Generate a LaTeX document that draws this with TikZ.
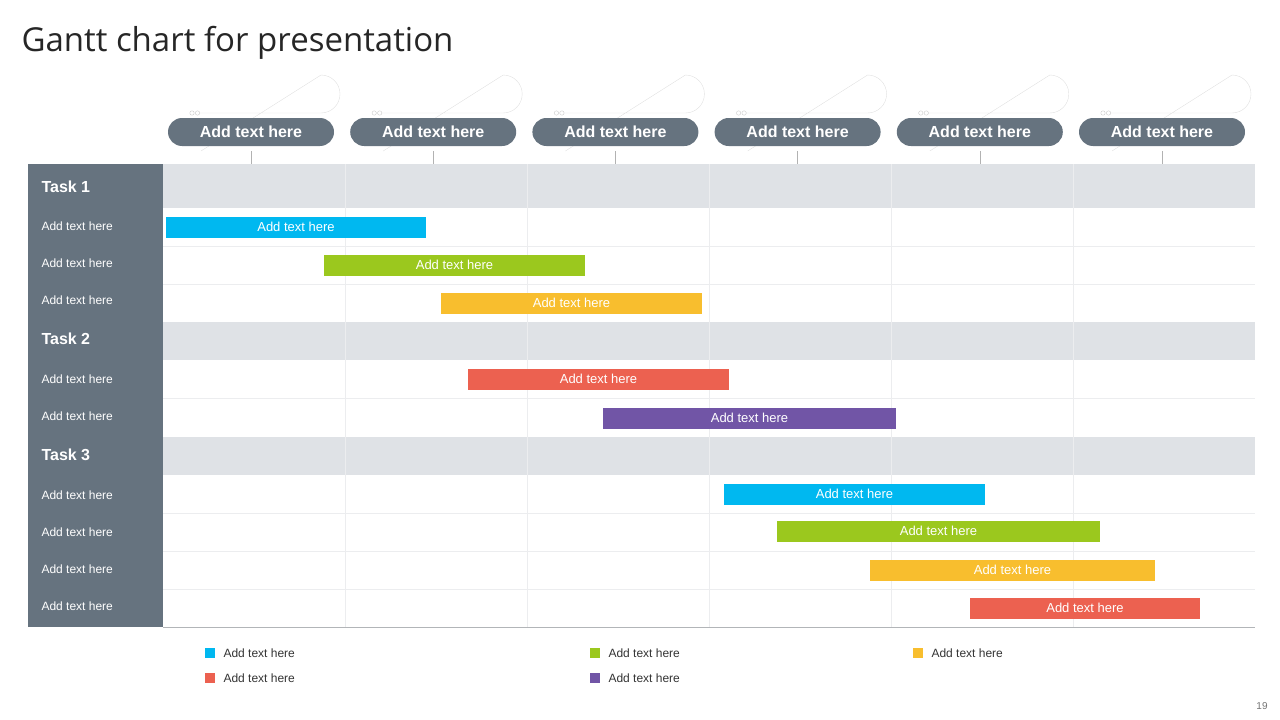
\documentclass[tikz,border=0pt]{standalone}
\usepackage{fontspec}
\setmainfont{Liberation Sans}
\newfontfamily\titlefont{Open Sans}
\definecolor{slate}{HTML}{66737F}
\definecolor{band}{HTML}{DFE2E6}
\definecolor{gline}{HTML}{ECEDEF}
\definecolor{cyanbar}{HTML}{00B8F0}
\definecolor{greenbar}{HTML}{9BC81E}
\definecolor{yellowbar}{HTML}{F8BE2E}
\definecolor{redbar}{HTML}{EC6150}
\definecolor{purplebar}{HTML}{7155A6}
\tikzset{
  pill/.style={fill=slate, rounded corners=14pt, minimum width=166pt, minimum height=28pt, text=white, font=\bfseries\fontsize{16}{16}\selectfont, inner sep=0pt},
  bar/.style={minimum height=21pt, inner sep=0pt, text=white, font=\fontsize{13}{13}\selectfont},
  rowlabel/.style={anchor=west, text=white, font=\fontsize{12}{12}\selectfont},
  tasklabel/.style={anchor=west, text=white, font=\bfseries\fontsize{16}{16}\selectfont},
  legendbox/.style={minimum size=10pt, inner sep=0pt},
  legendtext/.style={anchor=west, font=\fontsize{12}{12}\selectfont, text=black!80}
}
\begin{document}
\begin{tikzpicture}[x=1pt,y=-1pt]
\useasboundingbox (0,0) rectangle (1280,720);
\node[anchor=west, font=\titlefont\fontsize{33}{33}\selectfont, text=black!85] (title) at (18,43) {Gantt chart for presentation};
% bands and grid
\foreach \a/\b in {164/208,322/360,437/475} \fill[band] (163,\a) rectangle (1255,\b);
\foreach \y in {246,284,398,513,551,589} \draw[gline] (163,\y) -- (1255,\y);
\foreach \x in {345,527,709,891,1073} \draw[gline] (\x,164) -- (\x,627);
\draw[band!80!black] (163,627.5) -- (1255,627.5);
\fill[slate] (28,164) rectangle (163,627);
% header pills
\foreach \i in {0,...,5} {
  \pgfmathsetmacro\cx{251+182.2*\i}
  \draw[black!12] (\cx-53,113) -- (\cx+70,113) arc[start angle=90, end angle=-90, radius=19] -- (\cx-50,151);
  \draw[black!20, fill=white] (\cx-59,113) circle (2.2) (\cx-53.5,113) circle (2.2);
  \draw[black!30] (\cx,151) -- (\cx,164);
  \node[pill] (head\i) at (\cx,132) {Add text here};
}
% row labels
\node[tasklabel] (task1) at (38,187) {Task 1};
\node[tasklabel] (task2) at (38,339) {Task 2};
\node[tasklabel] (task3) at (38,455) {Task 3};
\foreach \y [count=\r] in {226,263,300,379,416,495,532,569,606}
  \node[rowlabel] (row\r) at (38,\y) {Add text here};
% bars
\foreach \l/\r/\y/\c [count=\n] in {166/426/227/cyanbar,324/585/265/greenbar,441/702/303/yellowbar,468/729/379/redbar,603/896/418/purplebar,724/985/494/cyanbar,777/1100/531/greenbar,870/1155/570/yellowbar,970/1200/608/redbar}
  \node[bar, fill=\c, minimum width=\r-\l] (bar\n) at ({(\l+\r)/2},\y) {Add text here};
% legend
\foreach \x/\y/\c [count=\n] in {210/653/cyanbar,595/653/greenbar,918/653/yellowbar,210/678/redbar,595/678/purplebar} {
  \node[legendbox, fill=\c] (key\n) at (\x,\y) {};
  \node[legendtext] (keytext\n) at (\x+10,\y) {Add text here};
}
\node[font=\fontsize{10}{10}\selectfont, text=black!55] (page) at (1262,706) {19};
\end{tikzpicture}
\end{document}
